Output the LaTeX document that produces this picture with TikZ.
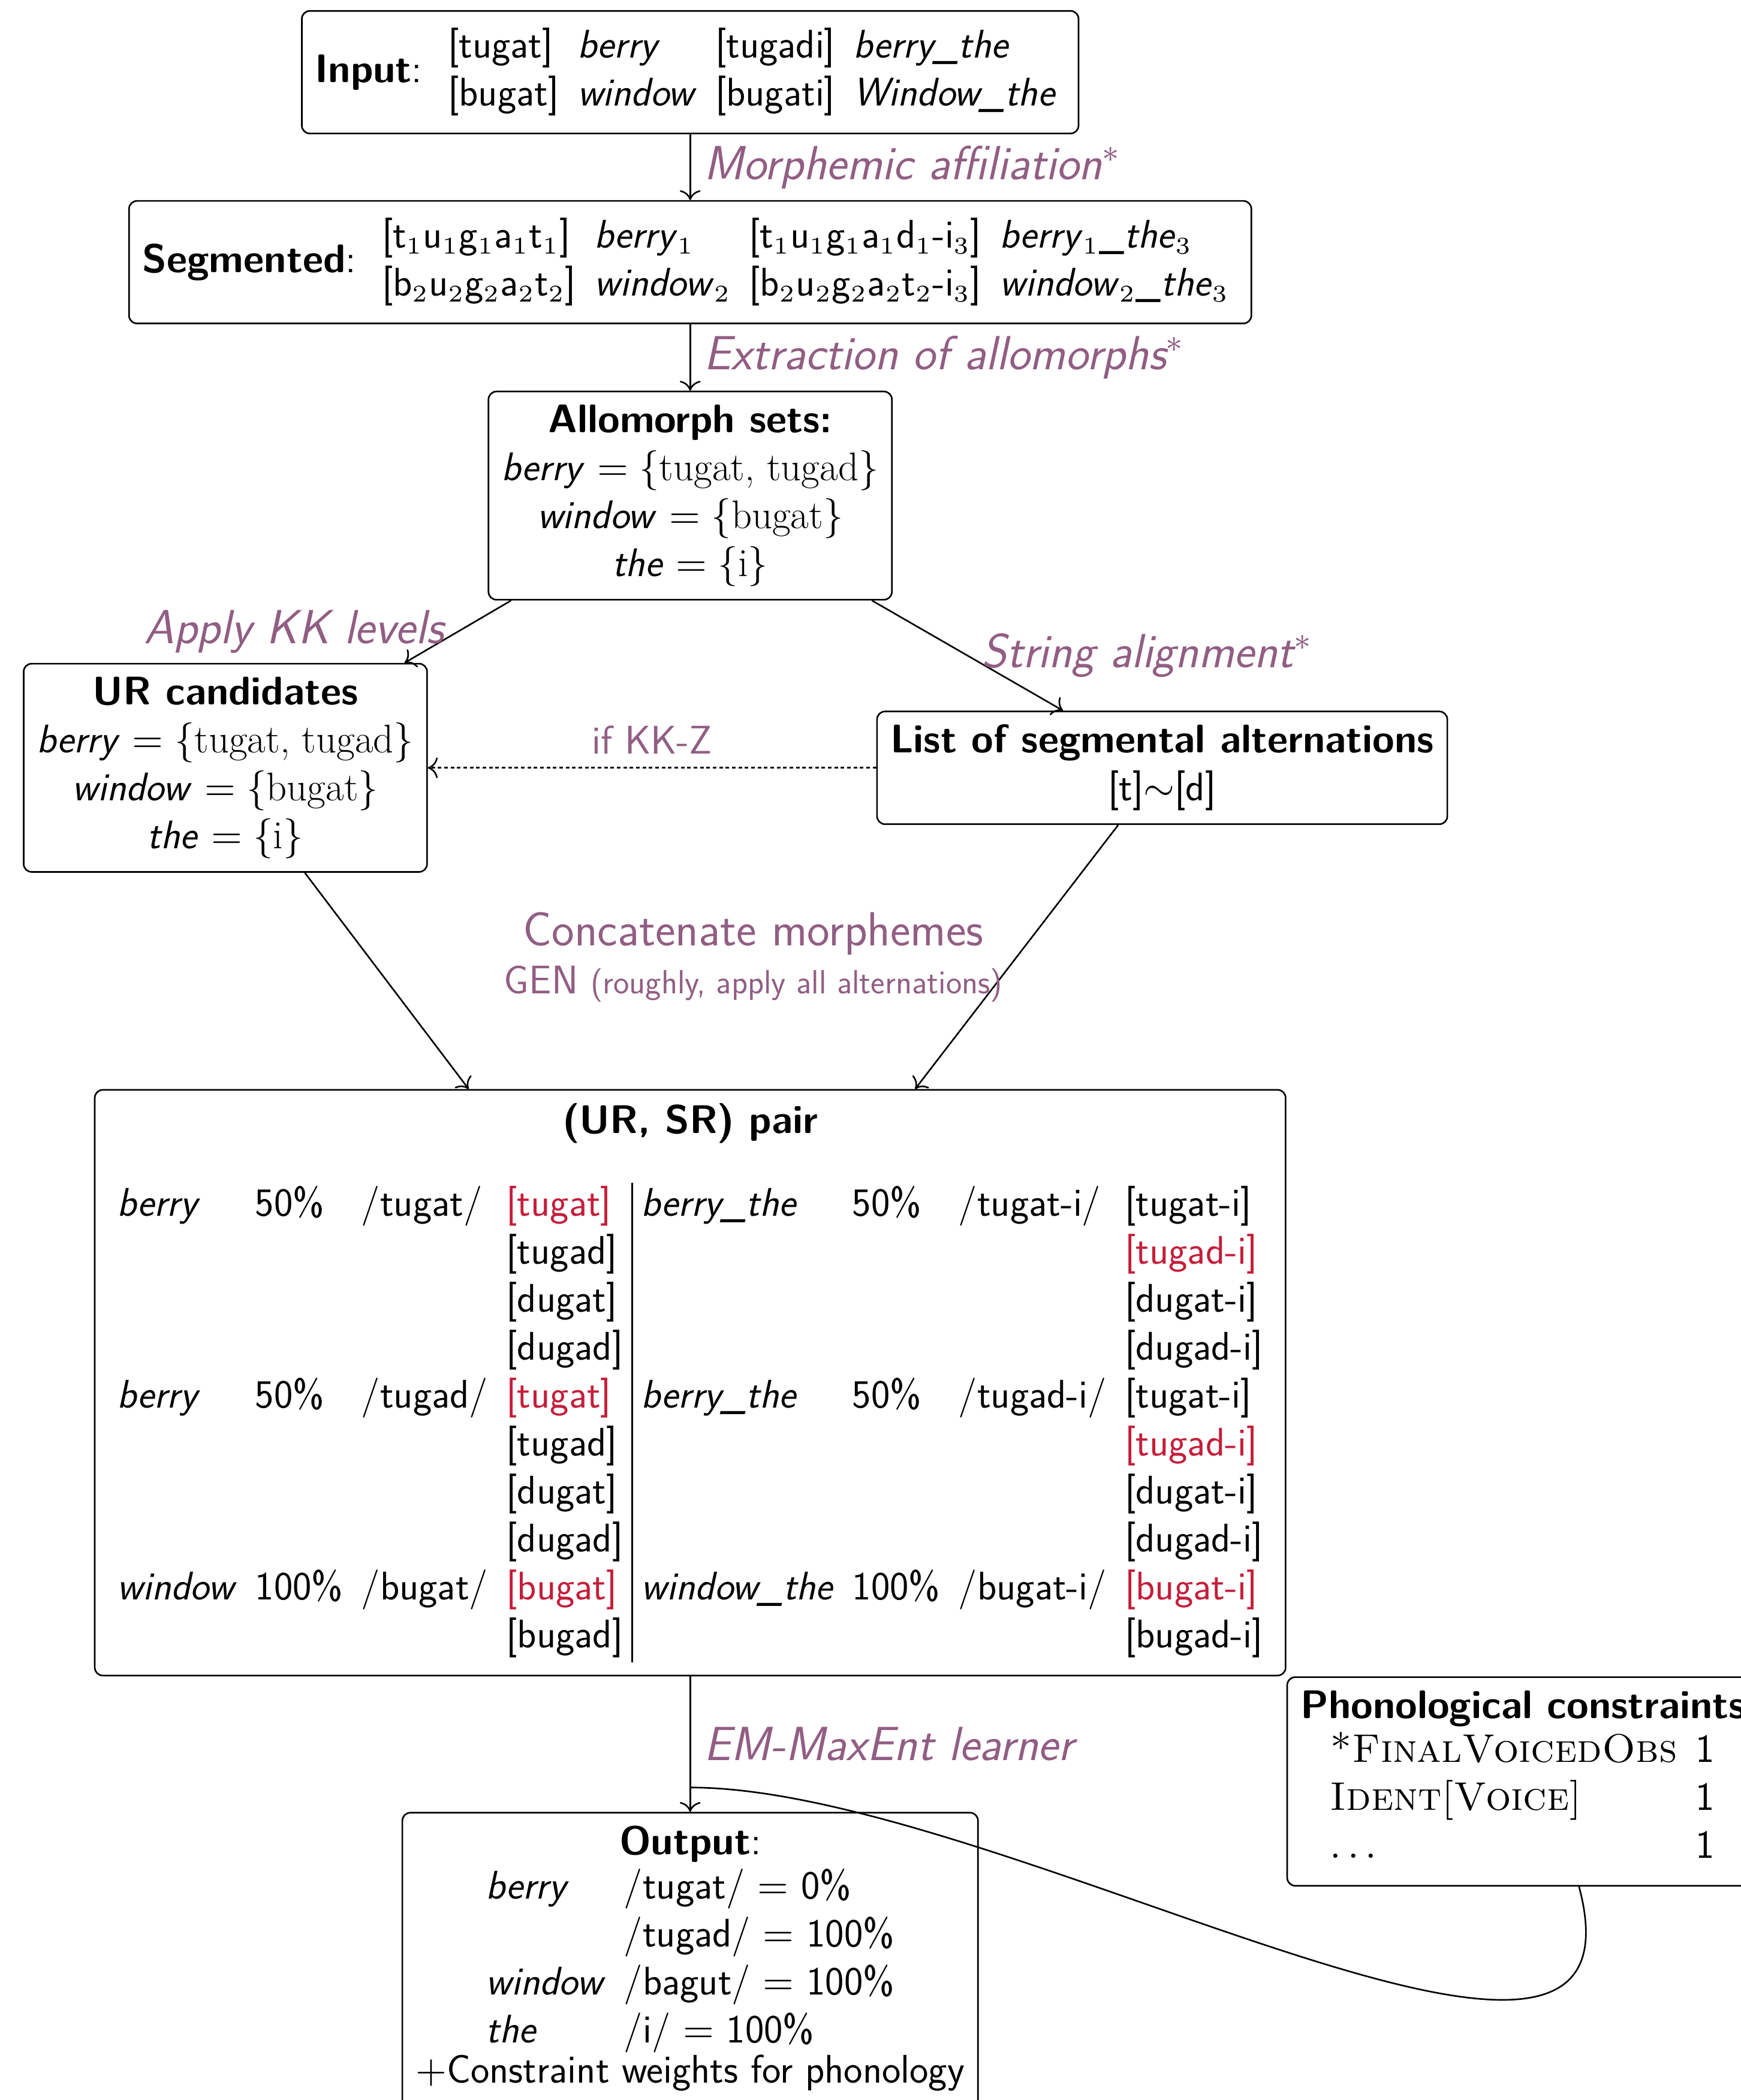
\documentclass[tikz,border=0pt]{standalone}
\usepackage{fontspec}
\usepackage{amsmath,amssymb}
\usetikzlibrary{arrows.meta, positioning, calc}
\setmainfont{lmroman17-regular.otf}[SmallCapsFont=lmromancaps10-regular.otf]
\setsansfont{lmsans17-regular.otf}[ItalicFont=lmsans17-oblique.otf, BoldFont=lmsans10-bold.otf, BoldItalicFont=lmsans10-boldoblique.otf]
\renewcommand{\familydefault}{\sfdefault}
\DeclareMathSizes{10}{10}{6}{5}
\definecolor{steptext}{HTML}{915E83}
\definecolor{winred}{HTML}{C41E3A}
\setlength{\tabcolsep}{2.3pt}
\newcommand{\winner}[1]{\textcolor{winred}{#1}}

\tikzset{
  box/.style={draw, rounded corners=2pt, align=center},
  steplbl/.style={text=steptext, font=\large\itshape},
}

\begin{document}
\begin{tikzpicture}[x=1cm,y=1cm]
  \useasboundingbox (0,0) rectangle (15.31,-18.47);

  \node[box] (input) at (6.07,-0.635) {\textbf{Input}: \begin{tabular}{llll}
      {[tugat]} & \textit{berry} & [tugadi] & \textit{berry\_the}\\
      {[bugat]} & \textit{window} & [bugati] & \textit{Window\_the}
    \end{tabular}};

  \node[box] (seg) at (6.07,-2.306) {\textbf{Segmented}: \begin{tabular}{llll}
      {[t$_1$u$_1$g$_1$a$_1$t$_1$]} & \textit{berry}$_1$ & [t$_1$u$_1$g$_1$a$_1$d$_1$-i$_3$] & \textit{berry}$_1$\_\textit{the}$_3$\\
      {[b$_2$u$_2$g$_2$a$_2$t$_2$]} & \textit{window}$_2$ & [b$_2$u$_2$g$_2$a$_2$t$_2$-i$_3$] & \textit{window}$_2$\_\textit{the}$_3$
    \end{tabular}};

  \node[box] (allo) at (6.07,-4.359) {\textbf{Allomorph sets:}\\
    \textit{berry} $=\{\textrm{tugat, tugad}\}$\\
    \textit{window} $=\{\textrm{bugat}\}$\\
    \textit{the} $=\{\textrm{i}\}$};

  \node[box] (ur) at (1.982,-6.753) {\textbf{UR candidates}\\
    \textit{berry} $=\{\textrm{tugat, tugad}\}$\\
    \textit{window} $=\{\textrm{bugat}\}$\\
    \textit{the} $=\{\textrm{i}\}$};

  \node[box] (list) at (10.221,-6.753) {\textbf{List of segmental alternations}\\
    {[t]}$\sim$[d]};

  \node[box] (pair) at (6.07,-12.161) {\textbf{(UR, SR) pair}\\[8.8pt]
    \begin{tabular}[t]{llll|llll}
      \textit{berry} & 50\% & /tugat/ & \winner{[tugat]} & \textit{berry\_the} & 50\% & /tugat-i/ & [tugat-i]\\
      & & & [tugad] & & & & \winner{[tugad-i]}\\
      & & & [dugat] & & & & [dugat-i]\\
      & & & [dugad] & & & & [dugad-i]\\
      \textit{berry} & 50\% & /tugad/ & \winner{[tugat]} & \textit{berry\_the} & 50\% & /tugad-i/ & [tugat-i]\\
      & & & [tugad] & & & & \winner{[tugad-i]}\\
      & & & [dugat] & & & & [dugat-i]\\
      & & & [dugad] & & & & [dugad-i]\\
      \textit{window} & 100\% & /bugat/ & \winner{[bugat]} & \textit{window\_the} & 100\% & /bugat-i/ & \winner{[bugat-i]}\\
      & & & [bugad] & & & & [bugad-i]
    \end{tabular}};

  \node[box, align=left, below right=0pt and 0pt of pair] (phon) {\textbf{Phonological constraints}\\[-1pt]
    \begin{tabular}[t]{@{\hspace{7.4pt}}ll}
      \textrm{\textsc{*FinalVoicedObs}} & 1\\
      \textrm{\textsc{Ident[Voice]}} & 1\\
      $\ldots$ & 1
    \end{tabular}};

  \node[box, anchor=north] (output) at (6.07,-15.936) {\textbf{Output}:\\[-1pt]
    \begin{tabular}[t]{ll}
      \textit{berry} & /tugat/ $=$ 0\%\\
      & /tugad/ $=$ 100\%\\
      \textit{window} & /bagut/ $=$ 100\%\\
      \textit{the} & /i/ $=$ 100\%
    \end{tabular}\\[-1.5pt]
    $+$Constraint weights for phonology\rule[-7pt]{0pt}{0pt}};

  % pipeline steps
  \draw[->] (input) -- node[steplbl, right] {Morphemic affiliation$^*$} (seg);
  \draw[->] (seg) -- node[steplbl, right] {Extraction of allomorphs$^*$} (allo);
  \draw[->] (allo) -- node[steplbl, left] {Apply KK levels} (ur);
  \draw[->] (allo) -- node[steplbl, right] {String alignment$^*$} (list);
  \draw[->, dash pattern=on 0.9pt off 0.7pt] (list) -- node[above, text=steptext] {if KK-Z} (ur);
  \draw[->] (ur) -- (pair);
  \draw[->] (list) -- node[left, text=steptext, align=center] {{\large Concatenate morphemes}\\
    GEN {\fontsize{8.4}{10}\selectfont (roughly, apply all alternations)}} (pair);
  \draw[->] (pair) -- coordinate[pos=0.82] (join) node[steplbl, midway, right] {EM-MaxEnt learner} (output);

  % constraints feed the learner
  \draw (phon.-62) to[out=-75, in=0, looseness=0.9] (join);
\end{tikzpicture}
\end{document}
